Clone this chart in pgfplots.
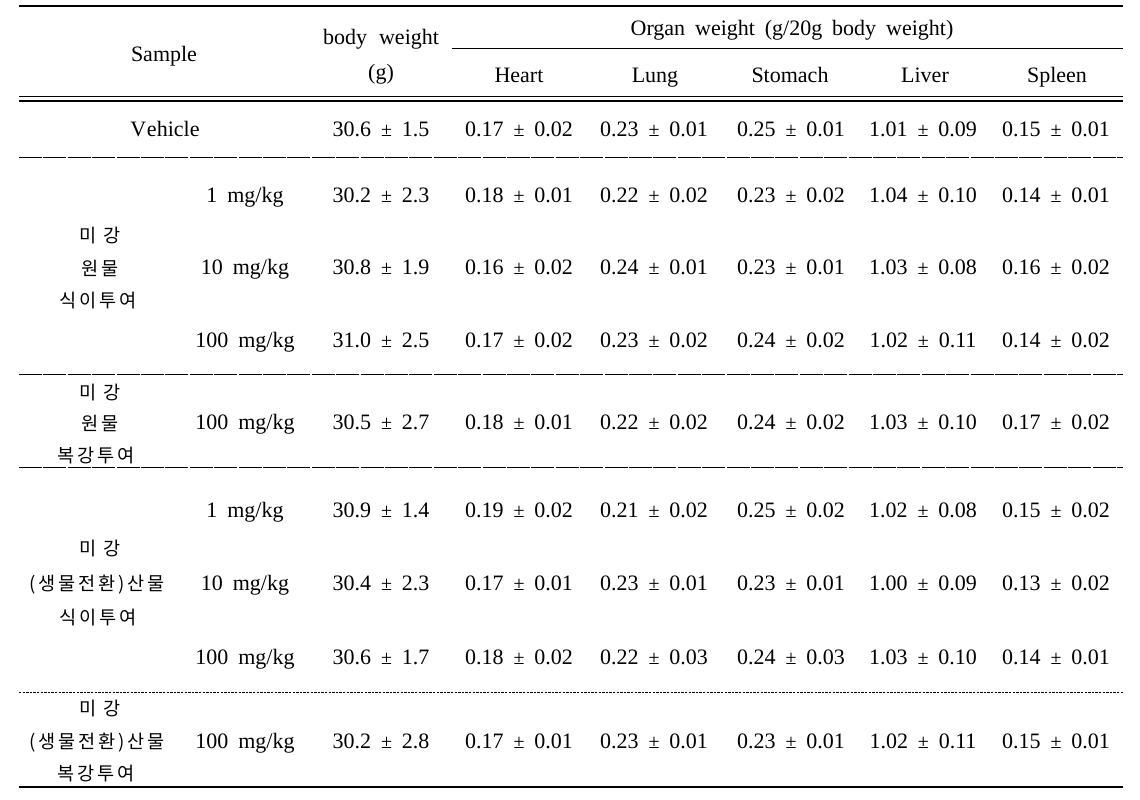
\documentclass[border=0pt]{standalone}
\usepackage{pgfplots}
\pgfplotsset{compat=1.18}
\usepackage{pgfplotstable}
\usepackage{fontspec}
\setmainfont{Liberation Serif}
\newfontfamily\kr[LetterSpace=15]{Noto Sans CJK KR}

\pgfplotstableread[col sep=comma]{
y,bw,bwsd,heart,heartsd,lung,lungsd,stom,stomsd,liver,liversd,spleen,spleensd
129,30.6,1.5,0.17,0.02,0.23,0.01,0.25,0.01,1.01,0.09,0.15,0.01
195,30.2,2.3,0.18,0.01,0.22,0.02,0.23,0.02,1.04,0.10,0.14,0.01
267,30.8,1.9,0.16,0.02,0.24,0.01,0.23,0.01,1.03,0.08,0.16,0.02
340,31.0,2.5,0.17,0.02,0.23,0.02,0.24,0.02,1.02,0.11,0.14,0.02
422,30.5,2.7,0.18,0.01,0.22,0.02,0.24,0.02,1.03,0.10,0.17,0.02
510,30.9,1.4,0.19,0.02,0.21,0.02,0.25,0.02,1.02,0.08,0.15,0.02
583,30.4,2.3,0.17,0.01,0.23,0.01,0.23,0.01,1.00,0.09,0.13,0.02
657,30.6,1.7,0.18,0.02,0.22,0.03,0.24,0.03,1.03,0.10,0.14,0.01
741,30.2,2.8,0.17,0.01,0.23,0.01,0.23,0.01,1.02,0.11,0.15,0.01
}\data

\newcommand\cellcol[3]{%
  \addplot[draw=none, mark=none, point meta=explicit,
    visualization depends on={\thisrow{#2sd}\as\sd},
    nodes near coords={\pgfmathprintnumber[fixed,zerofill,precision=#3]{\pgfplotspointmeta}\hspace{0.45em}{\fontsize{10}{12}\selectfont ±}\hspace{0.45em}\pgfmathprintnumber[fixed,zerofill,precision=#3]{\sd}},
    every node near coord/.append style={anchor=center, inner sep=0pt, text height=7.5pt, text depth=0pt, font=\fontsize{11}{13}\selectfont}]
    table[x expr=#1, y=y, meta=#2]{\data};}

\tikzset{lab/.style={inner sep=0pt, text height=7.5pt, text depth=0pt, font=\fontsize{11}{13}\selectfont},
  krl/.style={inner sep=0pt, text height=7.5pt, text depth=0pt, font=\kr\fontsize{9.3}{11}\selectfont}}

\begin{document}
\begin{tikzpicture}
\begin{axis}[
  width=570pt, height=399.5pt, scale only axis,
  xmin=0, xmax=1140, ymin=0, ymax=799, y dir=reverse,
  hide axis, clip=false,
  /pgf/number format/assume math mode=true,
]
\path (axis cs:0,0) rectangle (axis cs:1140,799);
% rules
\draw[line width=0.75pt] (axis cs:19,6) -- (axis cs:1123,6);
\draw[line width=0.55pt] (axis cs:452,48.5) -- (axis cs:1123,48.5);
\draw[line width=0.6pt] (axis cs:19,96.5) -- (axis cs:1123,96.5);
\draw[line width=0.6pt] (axis cs:19,101) -- (axis cs:1123,101);
\draw[line width=0.5pt, dash pattern=on 11.5pt off 0.7pt] (axis cs:19,157) -- (axis cs:1123,157);
\draw[line width=0.5pt, dash pattern=on 11.5pt off 0.7pt] (axis cs:19,374) -- (axis cs:1123,374);
\draw[line width=0.5pt, dash pattern=on 11.5pt off 0.7pt] (axis cs:19,467) -- (axis cs:1123,467);
\draw[line width=0.5pt, dash pattern=on 1.2pt off 0.6pt] (axis cs:19,692) -- (axis cs:1123,692);
\draw[line width=0.75pt] (axis cs:19,787) -- (axis cs:1123,787);
% header
\node[lab] at (axis cs:164,54) {Sample};
\node[lab] at (axis cs:381,37) {body\hspace{0.55em}weight};
\node[lab] at (axis cs:381,72) {(g)};
\node[lab] at (axis cs:792,28) {Organ\hspace{0.45em}weight\hspace{0.45em}(g/20g\hspace{0.45em}body\hspace{0.45em}weight)};
\node[lab] at (axis cs:519,75) {Heart};
\node[lab] at (axis cs:655,75) {Lung};
\node[lab] at (axis cs:790,75) {Stomach};
\node[lab] at (axis cs:925,75) {Liver};
\node[lab] at (axis cs:1057,75) {Spleen};
% row labels
\node[lab] at (axis cs:165,129) {V\hspace{0.03em}ehicle};
\node[lab] at (axis cs:245,195) {1\hspace{0.45em}mg/kg};
\node[lab] at (axis cs:245,267) {10\hspace{0.45em}mg/kg};
\node[lab] at (axis cs:245,340) {100\hspace{0.45em}mg/kg};
\node[lab] at (axis cs:245,422) {100\hspace{0.45em}mg/kg};
\node[lab] at (axis cs:245,510) {1\hspace{0.45em}mg/kg};
\node[lab] at (axis cs:245,583) {10\hspace{0.45em}mg/kg};
\node[lab] at (axis cs:245,657) {100\hspace{0.45em}mg/kg};
\node[lab] at (axis cs:245,741) {100\hspace{0.45em}mg/kg};
% group labels
\node[krl] at (axis cs:100,235) {미 강};
\node[krl] at (axis cs:100,268) {원물};
\node[krl] at (axis cs:98,300) {식이투여};
\node[krl] at (axis cs:100,392) {미 강};
\node[krl] at (axis cs:100,423) {원물};
\node[krl] at (axis cs:96,455) {복강투여};
\node[krl] at (axis cs:100,548) {미 강};
\node[krl] at (axis cs:97,583) {(생물전환)산물};
\node[krl] at (axis cs:98,617) {식이투여};
\node[krl] at (axis cs:100,708) {미 강};
\node[krl] at (axis cs:97,741) {(생물전환)산물};
\node[krl] at (axis cs:96,773) {복강투여};
% data cells
\cellcol{381}{bw}{1}
\cellcol{519}{heart}{2}
\cellcol{654}{lung}{2}
\cellcol{791}{stom}{2}
\cellcol{923}{liver}{2}
\cellcol{1056}{spleen}{2}
\end{axis}
\end{tikzpicture}
\end{document}
